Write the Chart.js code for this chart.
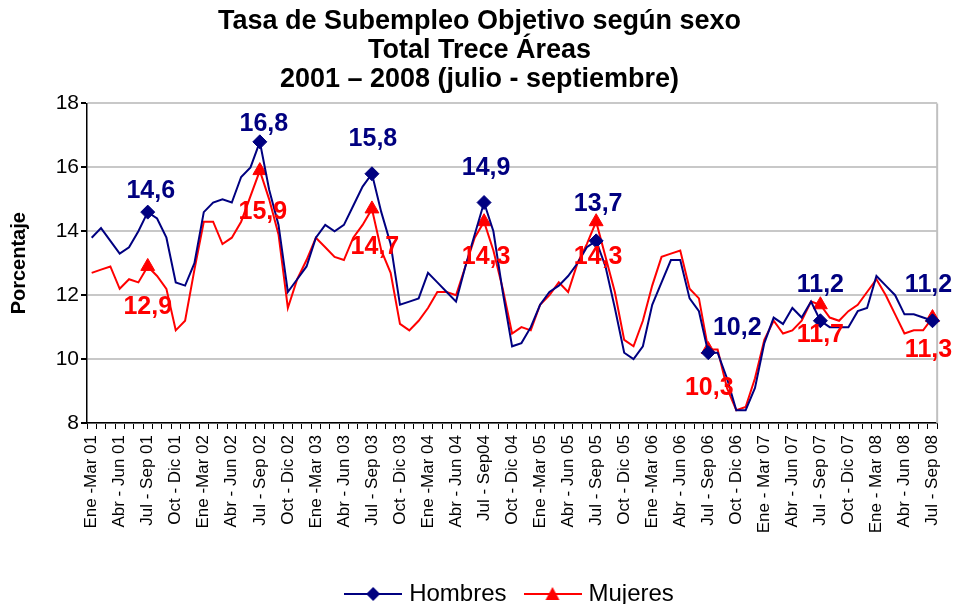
<!DOCTYPE html>
<html lang="es">
<head>
<meta charset="utf-8">
<title>Tasa de Subempleo Objetivo según sexo</title>
<script src="https://cdn.jsdelivr.net/npm/chart.js@4.4.1/dist/chart.umd.min.js"></script>
<style>
  html, body { margin: 0; padding: 0; background: #fff; }
</style>
</head>
<body>
<canvas id="lienzo" width="959" height="604"></canvas>
<script>
// Etiquetas del eje X (una cada tres trimestres móviles)
const etiquetasEje = [
  'Ene -Mar 01', 'Abr - Jun 01', 'Jul - Sep 01', 'Oct - Dic 01',
  'Ene -Mar 02', 'Abr - Jun 02', 'Jul - Sep 02', 'Oct - Dic 02',
  'Ene -Mar 03', 'Abr - Jun 03', 'Jul - Sep 03', 'Oct - Dic 03',
  'Ene -Mar 04', 'Abr - Jun 04', 'Jul - Sep04', 'Oct - Dic 04',
  'Ene -Mar 05', 'Abr - Jun 05', 'Jul - Sep 05', 'Oct - Dic 05',
  'Ene -Mar 06', 'Abr - Jun 06', 'Jul - Sep 06', 'Oct - Dic 06',
  'Ene - Mar 07', 'Abr - Jun 07', 'Jul - Sep 07', 'Oct - Dic 07',
  'Ene - Mar 08', 'Abr - Jun 08', 'Jul - Sep 08'
];

// Trimestres móviles, Ene-Mar 01 ... Jul-Sep 08
const hombres = [
  13.8, 14.1, 13.7, 13.3, 13.5, 14.0, 14.6, 14.4, 13.8, 12.4, 12.3, 13.0,
  14.6, 14.9, 15.0, 14.9, 15.7, 16.0, 16.8, 15.3, 14.2, 12.1, 12.5, 12.9,
  13.8, 14.2, 14.0, 14.2, 14.8, 15.4, 15.8, 14.6, 13.6, 11.7, 11.8, 11.9,
  12.7, 12.4, 12.1, 11.8, 12.9, 13.9, 14.9, 14.0, 12.1, 10.4, 10.5, 11.0,
  11.7, 12.1, 12.3, 12.6, 13.0, 13.5, 13.7, 12.9, 11.6, 10.2, 10.0, 10.4,
  11.7, 12.4, 13.1, 13.1, 11.9, 11.5, 10.2, 10.2, 9.4, 8.4, 8.4, 9.1,
  10.5, 11.3, 11.1, 11.6, 11.3, 11.8, 11.2, 11.0, 11.0, 11.0, 11.5, 11.6,
  12.6, 12.3, 12.0, 11.4, 11.4, 11.3, 11.2
];

const mujeres = [
  12.7, 12.8, 12.9, 12.2, 12.5, 12.4, 12.9, 12.6, 12.2, 10.9, 11.2, 12.8,
  14.3, 14.3, 13.6, 13.8, 14.3, 15.1, 15.9, 15.0, 13.9, 11.6, 12.5, 13.1,
  13.8, 13.5, 13.2, 13.1, 13.8, 14.2, 14.7, 13.4, 12.7, 11.1, 10.9, 11.2,
  11.6, 12.1, 12.1, 12.0, 12.9, 13.8, 14.3, 13.4, 12.2, 10.8, 11.0, 10.9,
  11.7, 12.0, 12.4, 12.1, 13.0, 13.6, 14.3, 13.2, 12.1, 10.6, 10.4, 11.2,
  12.3, 13.2, 13.3, 13.4, 12.2, 11.9, 10.3, 10.3, 9.1, 8.4, 8.5, 9.4,
  10.6, 11.2, 10.8, 10.9, 11.2, 11.8, 11.7, 11.3, 11.2, 11.5, 11.7, 12.1,
  12.5, 12.0, 11.4, 10.8, 10.9, 10.9, 11.3
];

const titulo = [
  'Tasa de Subempleo Objetivo según sexo',
  'Total Trece Áreas',
  '2001 – 2008 (julio - septiembre)'
];

// desplazamiento de las etiquetas de valor (x, y) respecto al marcador
const despHombres = [[3, -14], [4, -11], [1, -28], [2, -28], [2, -30], [29, -18], [0, -29], [-4, -29]];
const despMujeres = [[0, 48], [3, 48], [3, 45], [2, 42], [2, 42], [1, 45], [0, 37], [-4, 39]];

const AZUL = '#000080';
const ROJO = '#ff0000';
const FUENTE = "'Liberation Sans', Arial, sans-serif";

const categorias = hombres.map((v, i) => (i % 3 === 0 ? etiquetasEje[i / 3] : ''));
const marcados = categorias.map((c, i) => (c.startsWith('Jul') ? i : -1)).filter(i => i >= 0);

const formato = v => v.toFixed(1).replace('.', ',');

function icono(color, forma) {
  const c = document.createElement('canvas');
  c.width = 58;
  c.height = 18;
  const g = c.getContext('2d');
  g.strokeStyle = color;
  g.lineWidth = 2;
  g.beginPath();
  g.moveTo(0, 9);
  g.lineTo(58, 9);
  g.stroke();
  g.fillStyle = color;
  g.beginPath();
  if (forma === 'rombo') {
    g.moveTo(29, 2); g.lineTo(36, 9); g.lineTo(29, 16); g.lineTo(22, 9);
  } else {
    g.moveTo(29, 2); g.lineTo(36, 15); g.lineTo(22, 15);
  }
  g.closePath();
  g.fill();
  return c;
}
const iconos = [icono(AZUL, 'rombo'), icono(ROJO, 'triangulo')];

const etiquetasDatos = {
  id: 'etiquetasDatos',
  afterDatasetsDraw(chart) {
    const ctx = chart.ctx;
    ctx.save();
    ctx.font = 'bold 25px ' + FUENTE;
    ctx.textAlign = 'center';
    ctx.textBaseline = 'alphabetic';
    chart.data.datasets.forEach((ds, d) => {
      const meta = chart.getDatasetMeta(d);
      const desp = d === 0 ? despHombres : despMujeres;
      ctx.fillStyle = ds.borderColor;
      marcados.forEach((idx, k) => {
        const p = meta.data[idx];
        ctx.fillText(formato(ds.data[idx]), p.x + desp[k][0], p.y + desp[k][1]);
      });
    });
    ctx.restore();
  }
};

const marco = {
  id: 'marco',
  afterLayout(chart) {
    // leyenda y título algo desplazados, como en el original
    chart.legend.left += 42;
    chart.legend.right += 42;
    chart.legend.top += 12;
    chart.legend.bottom += 12;
    chart.titleBlock.left += 10;
    chart.titleBlock.right += 10;
  },
  beforeDatasetsDraw(chart) {
    const {ctx, chartArea: a} = chart;
    ctx.save();
    ctx.strokeStyle = '#c0c0c0';
    ctx.lineWidth = 2;
    ctx.beginPath();
    ctx.moveTo(a.right, a.top);
    ctx.lineTo(a.right, a.bottom);
    ctx.stroke();
    ctx.restore();
  }
};

Chart.defaults.font.family = FUENTE;
Chart.defaults.color = '#000';

const radio = r => ctx => (marcados.includes(ctx.dataIndex) ? r : 0);

new Chart(document.getElementById('lienzo'), {
  type: 'line',
  data: {
    labels: categorias,
    datasets: [
      {
        label: 'Hombres',
        data: hombres,
        borderColor: AZUL,
        backgroundColor: AZUL,
        borderWidth: 2,
        tension: 0,
        pointStyle: 'rectRot',
        pointRadius: radio(7),
        pointBorderWidth: 1,
        pointBorderColor: AZUL,
        pointBackgroundColor: AZUL
      },
      {
        label: 'Mujeres',
        data: mujeres,
        borderColor: ROJO,
        backgroundColor: ROJO,
        borderWidth: 2,
        tension: 0,
        pointStyle: 'triangle',
        pointRadius: radio(8),
        pointBorderWidth: 1,
        pointBorderColor: ROJO,
        pointBackgroundColor: ROJO
      }
    ]
  },
  options: {
    responsive: false,
    animation: false,
    layout: { padding: { left: 0, right: 20, top: 0, bottom: 0 } },
    plugins: {
      title: {
        display: true,
        text: titulo,
        color: '#000',
        font: { size: 27, weight: 'bold', lineHeight: 1.08 },
        padding: { top: 7, bottom: 9 }
      },
      legend: {
        position: 'bottom',
        labels: {
          color: '#000',
          font: { size: 24 },
          usePointStyle: true,
          pointStyleWidth: 48,
          padding: 22,
          generateLabels(chart) {
            const items = Chart.defaults.plugins.legend.labels.generateLabels(chart);
            items.forEach((it, i) => { it.pointStyle = iconos[i]; });
            return items;
          }
        }
      },
      tooltip: { enabled: false }
    },
    scales: {
      x: {
        type: 'category',
        offset: true,
        afterFit(scale) { scale.height = 125; },
        grid: {
          display: true,
          offset: true,
          drawOnChartArea: false,
          drawTicks: true,
          tickLength: 6,
          color: '#000',
          lineWidth: 1
        },
        border: { display: true, color: '#000', width: 1.5 },
        ticks: {
          autoSkip: false,
          minRotation: 90,
          maxRotation: 90,
          padding: 6,
          color: '#000',
          font: { size: 17 },
          callback: (v, i) => categorias[i]
        }
      },
      y: {
        min: 8,
        max: 18,
        afterFit(scale) { scale.width = 87; },
        grid: {
          color: '#c8c8c8',
          lineWidth: 2,
          tickColor: '#000',
          tickLength: 6
        },
        border: { display: true, color: '#000', width: 1.5 },
        ticks: {
          stepSize: 2,
          padding: 2,
          color: '#000',
          font: { size: 21 }
        },
        title: {
          display: true,
          text: 'Porcentaje',
          color: '#000',
          font: { size: 20, weight: 'bold' },
          padding: { top: 7, bottom: 0 }
        }
      }
    }
  },
  plugins: [marco, etiquetasDatos]
});
</script>
</body>
</html>
